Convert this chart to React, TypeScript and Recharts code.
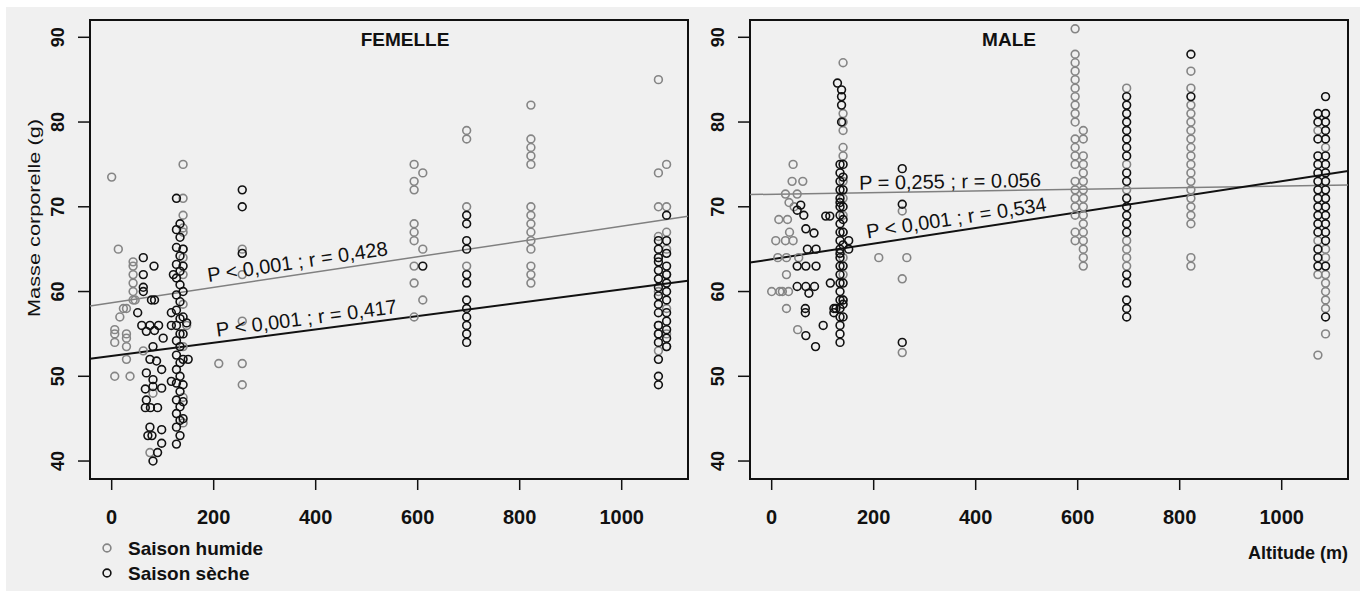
import React from 'react'
import {
  ScatterChart,
  Scatter,
  XAxis,
  YAxis,
  ReferenceArea,
  ReferenceLine,
  ReferenceDot,
} from 'recharts'

// [altitude (m), body masses (g) read at that altitude]
type Column = [number, number[]]

const femHumide: Column[] = [
  [0, [73.5]],
  [6, [55.5, 55, 54, 50]],
  [13, [65]],
  [16, [57]],
  [23, [58]],
  [29, [58, 55, 54.5, 53.5, 52]],
  [36, [50]],
  [42, [63.5, 63, 62, 61, 60, 59]],
  [46, [59]],
  [62, [53]],
  [75, [41]],
  [81, [48]],
  [140, [75, 71, 69, 67.5, 67, 65, 64, 62, 58.5, 53.5, 47.5, 44.5]],
  [147, [56]],
  [210, [51.5]],
  [256, [65, 62, 56.5, 51.5, 49]],
  [593, [75, 73, 72, 68, 67, 66, 63, 61, 57]],
  [610, [74, 65, 59]],
  [696, [79, 78, 70, 63]],
  [822, [82, 78, 77, 76, 75, 70, 69, 68, 67, 66, 65, 63, 62, 61]],
  [1072, [85, 74, 70, 66.5, 64, 60, 56, 55, 53]],
  [1088, [75, 70, 67, 65, 62, 58, 55, 53.5]],
]

const femSeche: Column[] = [
  [51, [57.5]],
  [59, [56]],
  [62, [64, 62, 60.5, 60]],
  [66, [48.5, 46.3]],
  [68, [55.3, 50.4, 47.2]],
  [71, [43]],
  [75, [56, 52, 44]],
  [76, [46.3]],
  [78, [59]],
  [79, [43]],
  [81, [53.5, 49.6, 48.8, 40]],
  [83, [63]],
  [84, [59, 55.4]],
  [88, [51.8]],
  [90, [46.3, 41]],
  [92, [56]],
  [98, [50.8, 48.6, 43.7, 42.1]],
  [101, [54.5]],
  [117, [57.5, 56, 49.4]],
  [121, [62]],
  [127, [71, 67.3, 65.2, 63.2, 61.6, 59.6, 57.8, 56, 54.2, 52.5, 50.8, 49.2, 47.2, 45.6, 44, 42]],
  [134, [68, 66.4, 64.2, 62.4, 60.8, 58.8, 56.8, 55, 53.5, 51.6, 50, 48.2, 46.4, 44.8, 43]],
  [140, [65, 63, 60, 57, 55, 52, 49, 47, 45]],
  [147, [56.3]],
  [150, [52]],
  [256, [72, 70, 64.5]],
  [610, [63]],
  [696, [69, 68, 66, 65, 62, 61, 59, 58, 57, 56, 55, 54]],
  [1072, [66, 65, 64, 63.5, 62.5, 61.5, 60.5, 59.5, 58.5, 57.5, 56, 55, 54, 52, 50, 49]],
  [1088, [69, 66, 64.5, 63, 62, 61, 60, 59, 57.5, 56.5, 55.5, 54.5, 53.5]],
]

const maleHumide: Column[] = [
  [0, [60]],
  [8, [66]],
  [12, [64]],
  [14, [68.5]],
  [16, [60]],
  [21, [60]],
  [27, [71.5, 66]],
  [29, [64, 62, 58]],
  [31, [68.5]],
  [33, [60]],
  [34, [70.5]],
  [35, [67]],
  [40, [73]],
  [42, [75, 66]],
  [44, [70]],
  [50, [71.5]],
  [51, [55.5]],
  [53, [64]],
  [61, [73]],
  [140, [87, 81, 80, 79, 77, 76, 73, 71, 69, 67, 64, 62, 59]],
  [210, [64]],
  [256, [69.5, 61.5, 52.8]],
  [265, [64]],
  [595, [91, 88, 87, 86, 85, 84, 83, 82, 81, 80, 78, 77, 76, 75, 73, 72, 71, 70, 69, 67, 66]],
  [611, [79, 78, 76, 75, 74, 73, 72, 71, 70, 69, 68, 67, 66, 65, 64, 63]],
  [696, [84, 75, 72, 66, 65, 64, 63]],
  [822, [86, 84, 82, 81, 80, 79, 78, 77, 76, 75, 74, 73, 72, 71, 70, 69, 68, 64, 63]],
  [1071, [79, 66, 62, 52.5]],
  [1086, [77, 65, 64, 62, 61, 60, 59, 58, 55]],
]

const maleSeche: Column[] = [
  [50, [69.6, 63, 60.6]],
  [57, [70.2]],
  [63, [69]],
  [66, [58, 57.5]],
  [67, [67.4, 63, 60.6, 54.8]],
  [70, [65]],
  [73, [59.8]],
  [83, [66.9]],
  [84, [60.6]],
  [86, [53.5]],
  [87, [65, 63]],
  [101, [56]],
  [106, [68.9]],
  [114, [68.9]],
  [115, [61]],
  [122, [58, 57.5]],
  [126, [58]],
  [129, [84.6]],
  [137, [83.8, 83, 82, 80]],
  [134, [75, 74, 73, 72, 71, 70.5, 70, 69, 68, 67, 66, 65, 64.5, 64, 63, 62, 61, 60, 59, 58, 57, 56, 55, 54]],
  [140, [75, 73.5, 72, 70, 68.5, 67, 65.5, 63, 61, 59, 58.5, 57]],
  [151, [66, 65]],
  [256, [74.5, 70.3, 54]],
  [696, [83, 82, 81, 80, 79, 78, 77, 76, 74, 73, 71, 70, 69, 68, 67, 62, 61, 59, 58, 57]],
  [822, [88, 83]],
  [1071, [81, 80, 78, 76, 75, 74, 73, 72, 71, 70, 69, 68, 67, 65, 64, 63]],
  [1086, [83, 81, 80, 79, 78, 76, 75, 74, 73, 72, 71, 70, 69, 68, 67, 66, 63, 57]],
]

const xTicks = [0, 200, 400, 600, 800, 1000]
const yTicks = [40, 50, 60, 70, 80, 90]

// linear fits: intercept a, slope b, and where the stat text sits along the line
const femFits = [
  { a: 58.68, b: 0.00904, text: 'P < 0,001 ; r = 0,428', at: 368, off: 13, color: '#808080', width: 1.5 },
  { a: 52.39, b: 0.00785, text: 'P < 0,001 ; r = 0,417', at: 385, off: 12.5, color: '#111', width: 2 },
]
const maleFits = [
  { a: 71.48, b: 0.00097, text: 'P = 0,255 ; r = 0.056', at: 350, off: 10, color: '#808080', width: 1.5 },
  { a: 63.81, b: 0.00922, text: 'P < 0,001 ; r = 0,534', at: 366, off: 13, color: '#111', width: 2 },
]

const X_DOMAIN: [number, number] = [-42.5, 1130]
const Y_DOMAIN: [number, number] = [37.88, 92.04]
const PLOT_W = 598
const PLOT_H = 459
const FONT = '"Liberation Sans", Arial, sans-serif'
const GREY = '#858585'
const BLACK = '#111'

const toPoints = (cols: Column[]) => cols.flatMap(([x, ys]) => ys.map((y) => ({ x, y })))

const ring = (color: string) => (p: any) => (
  <circle cx={p.cx} cy={p.cy} r={3.9} fill="none" stroke={color} strokeWidth={1.6} />
)

const XTick = (p: any) => (
  <text x={p.x} y={p.y + 25} textAnchor="middle" dominantBaseline="central"
    fontFamily={FONT} fontSize={20} fontWeight="bold" fill="#111">
    {p.payload.value}
  </text>
)

const YTick = (p: any) => {
  const cx = p.x - 18
  return (
    <text x={cx} y={p.y} transform={`rotate(-90 ${cx} ${p.y})`} textAnchor="middle"
      dominantBaseline="central" fontFamily={FONT} fontSize={18} fontWeight="bold" fill="#111">
      {p.payload.value}
    </text>
  )
}

function annotation(text: string, b: number, off: number) {
  const ratio = (PLOT_H / (Y_DOMAIN[1] - Y_DOMAIN[0])) / (PLOT_W / (X_DOMAIN[1] - X_DOMAIN[0]))
  const angle = (-Math.atan(b * ratio) * 180) / Math.PI
  return (props: any) => {
    const vb = props.viewBox
    const cx = vb.x + vb.width / 2
    const cy = vb.y + vb.height / 2
    return (
      <text x={cx} y={cy} dy={-off} transform={`rotate(${angle} ${cx} ${cy})`} textAnchor="middle"
        dominantBaseline="central" fontFamily={FONT} fontSize={20} fill="#111">
        {text}
      </text>
    )
  }
}

interface PanelProps {
  left: number
  humide: Column[]
  seche: Column[]
  fits: typeof femFits
}

function Panel({ left, humide, seche, fits }: PanelProps) {
  return (
    <div style={{ position: 'absolute', left, top: 0 }}>
      <ScatterChart width={700} height={591} margin={{ top: 20, right: 12, bottom: 72, left: 0 }}>
        <XAxis type="number" dataKey="x" domain={X_DOMAIN} ticks={xTicks} interval={0}
          allowDataOverflow axisLine={false} tickSize={11} height={40}
          tickLine={{ stroke: BLACK, strokeWidth: 1.5 }} tick={XTick} />
        <YAxis type="number" dataKey="y" domain={Y_DOMAIN} ticks={yTicks} interval={0}
          allowDataOverflow axisLine={false} tickSize={12} width={90}
          tickLine={{ stroke: BLACK, strokeWidth: 1.5 }} tick={YTick} />
        <Scatter name="Saison humide" data={toPoints(humide)} shape={ring(GREY)} isAnimationActive={false} />
        <Scatter name="Saison sèche" data={toPoints(seche)} shape={ring(BLACK)} isAnimationActive={false} />
        {fits.map((f, i) => (
          <ReferenceLine key={'l' + i} stroke={f.color} strokeWidth={f.width}
            segment={[
              { x: X_DOMAIN[0], y: f.a + f.b * X_DOMAIN[0] },
              { x: X_DOMAIN[1], y: f.a + f.b * X_DOMAIN[1] },
            ]} />
        ))}
        {fits.map((f, i) => (
          <ReferenceDot key={'t' + i} x={f.at} y={f.a + f.b * f.at} r={0} fill="none" stroke="none"
            label={annotation(f.text, f.b, f.off)} />
        ))}
        <ReferenceArea x1={X_DOMAIN[0]} x2={X_DOMAIN[1]} y1={Y_DOMAIN[0]} y2={Y_DOMAIN[1]}
          fill="none" stroke={BLACK} strokeWidth={2} />
      </ScatterChart>
    </div>
  )
}

export default function App() {
  const txt = { fontFamily: FONT, fill: '#111' }
  return (
    <div style={{ position: 'absolute', left: 0, top: 0, width: 1365, height: 591, background: '#fff' }}>
      <div style={{ position: 'absolute', left: 6, top: 7, width: 1354, height: 584, background: '#f0f0f0' }} />
      <Panel left={0} humide={femHumide} seche={femSeche} fits={femFits} />
      <Panel left={660} humide={maleHumide} seche={maleSeche} fits={maleFits} />
      <svg width={1365} height={591} style={{ position: 'absolute', left: 0, top: 0, pointerEvents: 'none' }}>
        <text x={405} y={39} textAnchor="middle" dominantBaseline="central" fontSize={19} fontWeight="bold" {...txt}>FEMELLE</text>
        <text x={1009} y={39} textAnchor="middle" dominantBaseline="central" fontSize={19} fontWeight="bold" {...txt}>MALE</text>
        <text x={34} y={218} transform="rotate(-90 34 218)" textAnchor="middle" dominantBaseline="central"
          fontSize={17} textLength={198} lengthAdjust="spacingAndGlyphs" {...txt}>Masse corporelle (g)</text>
        <text x={1348} y={553} textAnchor="end" dominantBaseline="central" fontSize={18} fontWeight="bold" {...txt}>Altitude (m)</text>
        <circle cx={107} cy={548} r={3.9} fill="none" stroke={GREY} strokeWidth={1.6} />
        <text x={128} y={548} dominantBaseline="central" fontSize={19} fontWeight="bold" {...txt}>Saison humide</text>
        <circle cx={107} cy={573} r={3.9} fill="none" stroke={BLACK} strokeWidth={1.6} />
        <text x={128} y={573} dominantBaseline="central" fontSize={19} fontWeight="bold" {...txt}>Saison sèche</text>
      </svg>
    </div>
  )
}
